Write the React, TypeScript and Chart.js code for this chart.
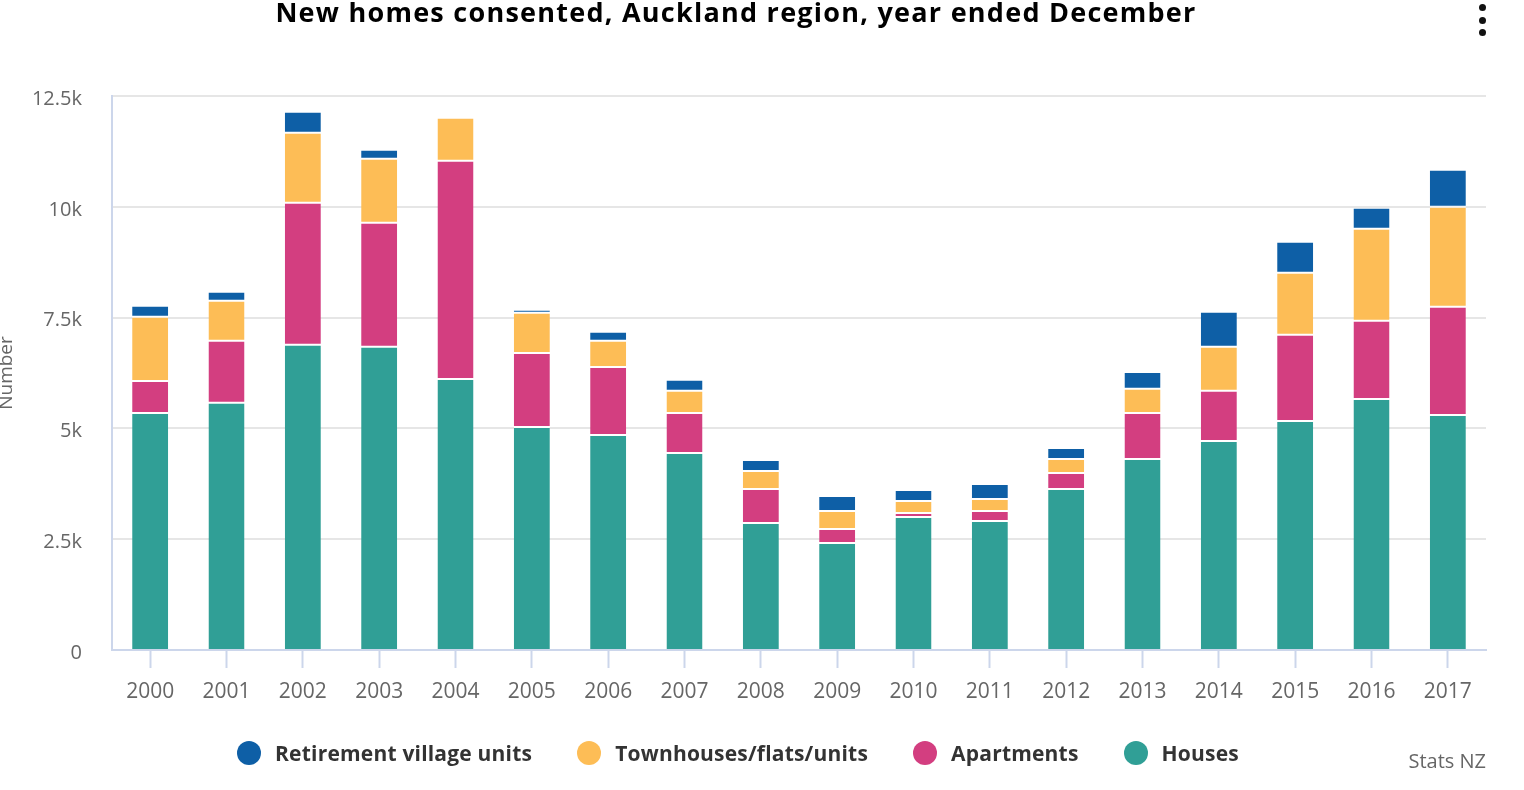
import React, { useEffect, useRef } from "react";
import { Chart, registerables } from "chart.js";

Chart.register(...registerables);

const years = ["2000", "2001", "2002", "2003", "2004", "2005", "2006", "2007", "2008", "2009", "2010", "2011", "2012", "2013", "2014", "2015", "2016", "2017"];
const houses = [5350, 5576, 6885, 6840, 6117, 5034, 4853, 4447, 2867, 2415, 3002, 2912, 3634, 4312, 4718, 5169, 5666, 5305];
const apartments = [722, 1399, 3205, 2799, 4921, 1670, 1535, 903, 767, 316, 91, 226, 361, 1038, 1129, 1942, 1761, 2438];
const townhouses = [1445, 903, 1580, 1445, 971, 903, 587, 497, 407, 407, 270, 271, 317, 542, 993, 1399, 2076, 2257];
const retirement = [248, 203, 474, 203, 0, 68, 203, 248, 248, 338, 249, 338, 248, 383, 790, 700, 474, 835];

const seriesNames = ["Houses", "Apartments", "Townhouses/flats/units", "Retirement village units"];
const seriesColors = ["#309f96", "#d33e80", "#fdbd56", "#0e5fa6"];
const seriesValues = [houses, apartments, townhouses, retirement];

const yTicks = [0, 2500, 5000, 7500, 10000, 12500];
const title = "New homes consented, Auckland region, year ended December";
const yTitle = "Number";
const credit = "Stats NZ";

const FONT = "'Open Sans', Lato, sans-serif";

export default function App() {
  const ref = useRef<HTMLCanvasElement | null>(null);

  useEffect(() => {
    if (!ref.current) return;
    const chart = new Chart(ref.current, {
      type: "bar",
      data: {
        labels: years,
        datasets: seriesValues.map((vals, i) => ({
          label: seriesNames[i],
          data: vals,
          backgroundColor: seriesColors[i],
          borderColor: "#ffffff",
          borderWidth: { top: 1, bottom: i === 0 ? 0 : 1, left: 0, right: 0 },
          borderSkipped: false,
          categoryPercentage: 1,
          barPercentage: 0.472,
        })),
      },
      options: {
        responsive: false,
        animation: false,
        devicePixelRatio: 1,
        layout: { padding: { top: 96, right: 38, bottom: 0, left: 0 } },
        plugins: {
          legend: { display: false },
          title: { display: false },
          tooltip: { enabled: false },
        },
        scales: {
          x: {
            stacked: true,
            grid: {
              display: true,
              offset: false,
              drawOnChartArea: false,
              drawTicks: true,
              tickLength: 18,
              tickColor: "#ccd6eb",
              tickWidth: 2,
            },
            border: { display: true, color: "#ccd6eb", width: 2 },
            ticks: {
              color: "#666666",
              font: { family: FONT, size: 21 },
              padding: 11,
              maxRotation: 0,
            },
            afterFit: (scale: any) => {
              scale.height = 140;
            },
          },
          y: {
            stacked: true,
            min: 0,
            max: 12500,
            afterBuildTicks: (scale: any) => {
              scale.ticks = yTicks.map((v) => ({ value: v }));
            },
            grid: {
              color: "#e6e6e6",
              lineWidth: 2,
              drawTicks: false,
            },
            border: { display: true, color: "#ccd6eb", width: 2 },
            ticks: {
              color: "#666666",
              font: { family: FONT, size: 20 },
              padding: 30,
              labelOffset: 3,
              callback: (v: any) => (Number(v) === 0 ? "0" : Number(v) / 1000 + "k"),
            },
            title: {
              display: true,
              text: yTitle,
              color: "#666666",
              font: { family: FONT, size: 19 },
              padding: { top: -5, bottom: 0 },
            },
            afterFit: (scale: any) => {
              scale.width = 112;
            },
          },
        },
      },
    });
    return () => chart.destroy();
  }, []);

  const legendOrder = [3, 2, 1, 0];

  return (
    <div style={{ position: "fixed", left: 0, top: 0, width: 1524, height: 790, background: "#fff", fontFamily: FONT }}>
      <canvas ref={ref} width={1524} height={790} style={{ position: "absolute", left: 0, top: 0, width: 1524, height: 790 }} />
      <div
        style={{
          position: "absolute",
          left: 0,
          top: -5,
          width: 1472,
          textAlign: "center",
          fontSize: 27,
          lineHeight: "34px",
          fontWeight: 700,
          letterSpacing: "1.25px",
          color: "#000",
        }}
      >
        {title}
      </div>
      {[7, 20, 32].map((y) => (
        <div
          key={y}
          style={{ position: "absolute", left: 1478.5, top: y - 3.5, width: 7, height: 7, borderRadius: "50%", background: "#111" }}
        />
      ))}
      <div
        style={{
          position: "absolute",
          left: 0,
          top: 739,
          width: 1476,
          height: 28,
          display: "flex",
          justifyContent: "center",
          alignItems: "center",
        }}
      >
        {legendOrder.map((i, k) => (
          <div key={i} style={{ display: "flex", alignItems: "center", marginLeft: k === 0 ? 0 : 45 }}>
            <div style={{ width: 24, height: 24, borderRadius: "50%", background: seriesColors[i], marginRight: 14 }} />
            <span style={{ fontSize: 21, fontWeight: 700, color: "#333333", lineHeight: "28px", letterSpacing: "0.2px" }}>{seriesNames[i]}</span>
          </div>
        ))}
      </div>
      <div
        style={{
          position: "absolute",
          right: 38,
          top: 748,
          fontSize: 20,
          lineHeight: "26px",
          color: "#666666",
        }}
      >
        {credit}
      </div>
    </div>
  );
}
